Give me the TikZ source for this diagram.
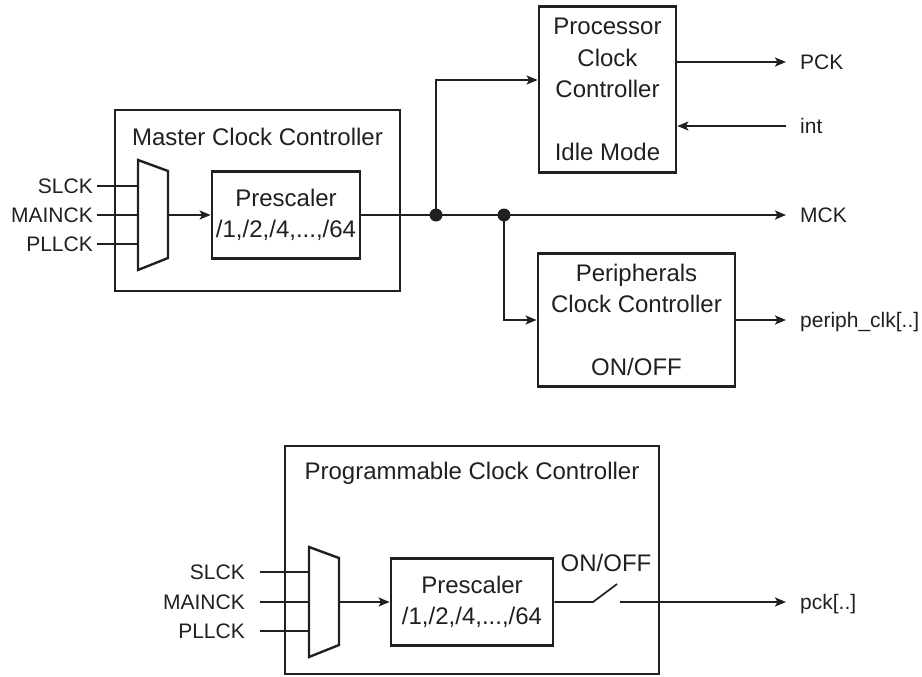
\documentclass[tikz,border=0pt]{standalone}
\usepackage{fontspec}
\setmainfont{Liberation Sans}
\usetikzlibrary{arrows.meta}
\definecolor{ink}{RGB}{35,31,32}

\begin{document}
\begin{tikzpicture}[x=1pt, y=-1pt, color=ink, font=\fontsize{24}{31.5}\selectfont,
	frame/.style={draw, line width=2.8pt, inner sep=0pt, align=center},
	mux/.style={draw, line width=2.4pt, line join=miter},
	wire/.style={line width=1.7pt},
	sig/.style={wire, -{Stealth[length=11pt, width=9pt, inset=2.5pt]}},
	dot/.style={circle, fill, inner sep=0pt, minimum size=13pt},
	lbl/.style={font=\fontsize{21}{25}\selectfont, text height=14.5pt, text depth=0pt},
	inlbl/.style={lbl, anchor=east, inner xsep=4pt},
	outlbl/.style={lbl, anchor=west, inner xsep=14pt}]
	\useasboundingbox (0,0) rectangle (922,677);

	% master clock controller
	\node [frame, minimum width=285pt, minimum height=181pt] (mcc) at (257.5,200.5) {};
	\node (mcctitle) at (257.5,137) {Master Clock Controller};
	\draw [mux] (138,160) -- (168,171) -- (168,258) -- (138,270) -- cycle;
	\coordinate (mux1s) at (138,186);
	\coordinate (mux1m) at (138,215);
	\coordinate (mux1p) at (138,244);
	\coordinate (mux1o) at (168,215);
	\node [frame, minimum width=148pt, minimum height=87pt] (pre1) at (286,215) {Prescaler\\/1,/2,/4,...,/64};
	\node [inlbl] (slck1) at (97,186) {SLCK};
	\node [inlbl] (mainck1) at (97,215) {MAINCK};
	\node [inlbl] (pllck1) at (97,244) {PLLCK};
	\draw [wire] (slck1) -- (mux1s);
	\draw [wire] (mainck1) -- (mux1m);
	\draw [wire] (pllck1) -- (mux1p);
	\draw [sig] (mux1o) -- (pre1.west);

	% MCK and its branches
	\node [dot] (j1) at (436,215) {};
	\node [dot] (j2) at (504,215) {};
	\node [outlbl] (mck) at (786,215) {MCK};
	\draw [sig] (pre1.east) -- (mck.west);

	\node [frame, minimum width=137pt, minimum height=166pt] (pcc) at (607.5,89.5) {Processor\\Clock\\Controller\\[31.5pt]Idle Mode};
	\node [outlbl] (pck) at (786,62) {PCK};
	\node [outlbl] (intr) at (786,126) {int};
	\draw [sig] (j1.center) |- ([yshift=9.5pt]pcc.west);
	\draw [sig] (pcc.east |- pck) -- (pck.west);
	\draw [sig] (intr.west) -- (pcc.east |- intr);

	\node [frame, minimum width=197pt, minimum height=133pt] (pkc) at (636.5,320) {Peripherals\\Clock Controller\\[31.5pt]ON/OFF};
	\node [outlbl] (pclk) at (786,320) {periph\_clk[..]};
	\draw [sig] (j2.center) |- (pkc.west);
	\draw [sig] (pkc.east) -- (pclk.west);

	% programmable clock controller
	\node [frame, minimum width=374pt, minimum height=228pt] (pgc) at (472,560) {};
	\node (pgctitle) at (472,473) {Programmable Clock Controller};
	\draw [mux] (309,547) -- (339,558) -- (339,645) -- (309,657) -- cycle;
	\coordinate (mux2s) at (309,572);
	\coordinate (mux2m) at (309,602);
	\coordinate (mux2p) at (309,631);
	\coordinate (mux2o) at (339,602);
	\node [frame, minimum width=162pt, minimum height=87pt] (pre2) at (472,602) {Prescaler\\/1,/2,/4,...,/64};
	\node [inlbl, inner xsep=15pt] (slck2) at (260,572) {SLCK};
	\node [inlbl, inner xsep=15pt] (mainck2) at (260,602) {MAINCK};
	\node [inlbl, inner xsep=15pt] (pllck2) at (260,631) {PLLCK};
	\draw [wire] (slck2) -- (mux2s);
	\draw [wire] (mainck2) -- (mux2m);
	\draw [wire] (pllck2) -- (mux2p);
	\draw [sig] (mux2o) -- (pre2.west);

	% on/off switch
	\coordinate (swa) at (593,602);
	\coordinate (swb) at (617,584);
	\coordinate (swc) at (620,602);
	\node (onoff) at (606,563) {ON/OFF};
	\node [outlbl] (pckout) at (786,602) {pck[..]};
	\draw [wire] (pre2.east) -- (swa) -- (swb);
	\draw [sig] (swc) -- (pckout.west);
\end{tikzpicture}
\end{document}
